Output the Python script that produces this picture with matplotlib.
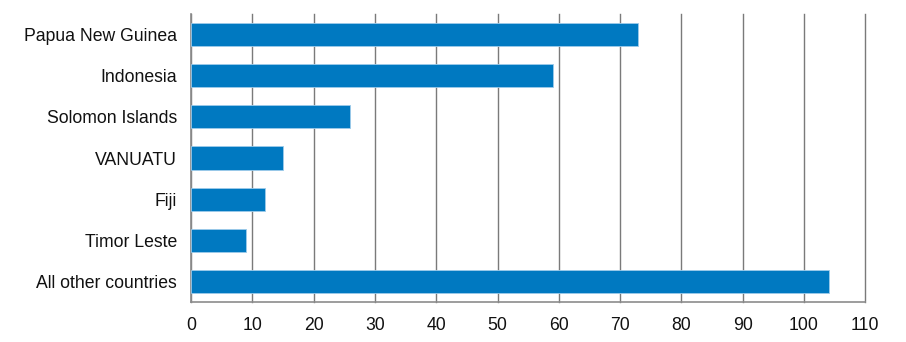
import matplotlib
matplotlib.use("Agg")
import matplotlib.pyplot as plt

# data
countries = ["Papua New Guinea", "Indonesia", "Solomon Islands", "VANUATU",
             "Fiji", "Timor Leste", "All other countries"]
values = [73, 59, 26, 15, 12, 9, 104]
xticks = list(range(0, 111, 10))

plt.rcParams['font.family'] = ['Liberation Sans', 'DejaVu Sans']

fig = plt.figure(figsize=(9.06, 3.42), dpi=100)
ax = fig.add_axes([0.2108, 0.117, 0.7443, 0.842])

pos = list(range(len(countries)))
ax.barh(pos, values, height=0.56, color="#0079C1", edgecolor="#9DCBEA",
        linewidth=0.6, zorder=3)

ax.set_ylim(len(countries) - 0.5, -0.5)
ax.set_xlim(0, 110)
ax.set_yticks(pos)
ax.set_yticklabels(countries)
ax.set_xticks(xticks)

ax.grid(axis="x", color="#7a7a7a", linewidth=1.0, zorder=0)
ax.grid(axis="y", visible=False)
for gl in ax.get_xgridlines():
    gl.set_clip_on(False)
for side in ["top", "right"]:
    ax.spines[side].set_visible(False)
for side in ["left", "bottom"]:
    ax.spines[side].set_color("#8c8c8c")
    ax.spines[side].set_linewidth(1.2)

ax.tick_params(axis="both", length=0, labelsize=12.7, colors="#111111")
ax.tick_params(axis="x", pad=10.5)
ax.tick_params(axis="y", pad=10)

fig.savefig("out.png", dpi=100)
